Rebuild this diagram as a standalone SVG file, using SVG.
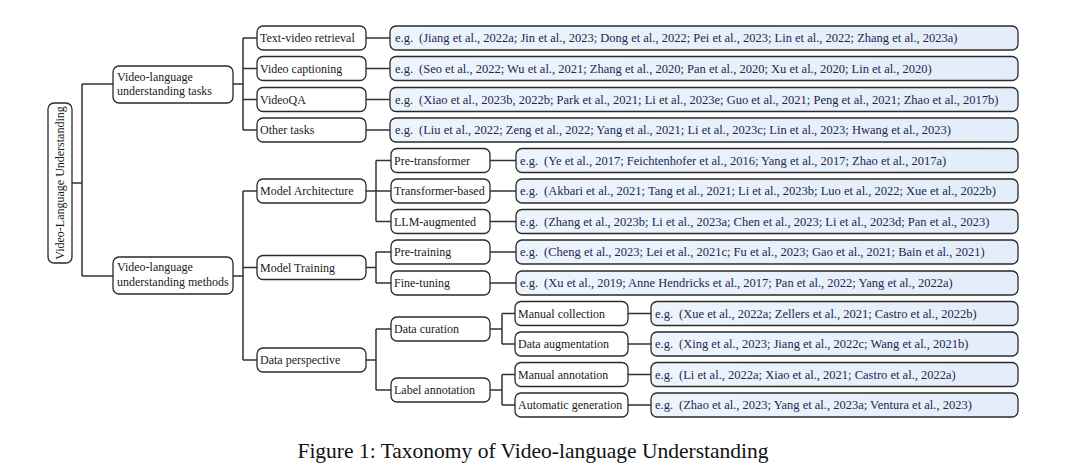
<svg xmlns="http://www.w3.org/2000/svg" width="1080" height="472" viewBox="0 0 1080 472">
<defs>
<linearGradient id="lg" x1="0" y1="0" x2="1" y2="0">
<stop offset="0" stop-color="#edf4fc"/>
<stop offset="1" stop-color="#e3edf9"/>
</linearGradient>
<style>
.n{fill:#ffffff;stroke:#2a2a2a;stroke-width:1.3}
.l{fill:url(#lg);stroke:#2a2a2a;stroke-width:1.3}
.t{font-family:"Liberation Serif","Times New Roman",serif;font-size:12px;fill:#1a1a1a}
.c{font-family:"Liberation Serif","Times New Roman",serif;font-size:12.5px;fill:#1e2750}
.cap{font-family:"Liberation Serif","Times New Roman",serif;font-size:21.5px;fill:#111}
#conn path{fill:none;stroke:#333;stroke-width:1.5}
</style>
</defs>
<rect width="1080" height="472" fill="#ffffff"/>
<g id="conn">
<path d="M72 183H82M82 84V276M82 84H113M82 276H113"/>
<path d="M233 84H243M243 38V130M243 38H257M243 68.5H257M243 99.5H257M243 130H257"/>
<path d="M366 38H390M366 68.5H390M366 99.5H390M366 130H390"/>
<path d="M233 276H243M243 191V360M243 191H257M243 267.5H257M243 360H257"/>
<path d="M366 191H376M376 160.5V221.5M376 160.5H391M376 191H391M376 221.5H391"/>
<path d="M490 160.5H516M490 191H516M490 221.5H516M490 252H516M490 283H516"/>
<path d="M366 267.5H376M376 252V283M376 252H391M376 283H391"/>
<path d="M366 360H376M376 329V390M376 329H391M376 390H391"/>
<path d="M490 329H502M502 313.5V344M502 313.5H515M502 344H515"/>
<path d="M490 390H502M502 374.5V405M502 374.5H515M502 405H515"/>
<path d="M628 313.5H651M628 344H651M628 374.5H651M628 405H651"/>
</g>
<g id="root">
<rect class="n" x="48" y="103" width="24" height="160" rx="6"/>
<text class="t" transform="translate(64 183) rotate(-90)" text-anchor="middle">Video-Language Understanding</text>
</g>
<g id="tasks">
<rect class="n" x="113" y="66" width="120" height="37" rx="6"/>
<text class="t" x="117" y="81">Video-language</text>
<text class="t" x="117" y="95">understanding tasks</text>
</g>
<g id="methods">
<rect class="n" x="113" y="257" width="120" height="37" rx="6"/>
<text class="t" x="117" y="271">Video-language</text>
<text class="t" x="117" y="286">understanding methods</text>
</g>
<g id="retrieval">
<rect class="n" x="257" y="26" width="109" height="24" rx="6"/>
<text class="t" x="260" y="42">Text-video retrieval</text>
</g>
<g id="captioning">
<rect class="n" x="257" y="56.5" width="109" height="24" rx="6"/>
<text class="t" x="260" y="72.5">Video captioning</text>
</g>
<g id="videoqa">
<rect class="n" x="257" y="87.5" width="109" height="24" rx="6"/>
<text class="t" x="260" y="103.5">VideoQA</text>
</g>
<g id="other">
<rect class="n" x="257" y="118" width="109" height="24" rx="6"/>
<text class="t" x="260" y="134">Other tasks</text>
</g>
<g id="leaf-retrieval">
<rect class="l" x="390" y="26" width="628" height="24" rx="6"/>
<text class="c" x="395" y="42">e.g.<tspan dx="6">(Jiang et al., 2022a; Jin et al., 2023; Dong et al., 2022; Pei et al., 2023; Lin et al., 2022; Zhang et al., 2023a)</tspan></text>
</g>
<g id="leaf-captioning">
<rect class="l" x="390" y="56.5" width="628" height="24" rx="6"/>
<text class="c" x="395" y="72.5">e.g.<tspan dx="6">(Seo et al., 2022; Wu et al., 2021; Zhang et al., 2020; Pan et al., 2020; Xu et al., 2020; Lin et al., 2020)</tspan></text>
</g>
<g id="leaf-videoqa">
<rect class="l" x="390" y="87.5" width="628" height="24" rx="6"/>
<text class="c" x="395" y="103.5">e.g.<tspan dx="6">(Xiao et al., 2023b, 2022b; Park et al., 2021; Li et al., 2023e; Guo et al., 2021; Peng et al., 2021; Zhao et al., 2017b)</tspan></text>
</g>
<g id="leaf-other">
<rect class="l" x="390" y="118" width="628" height="24" rx="6"/>
<text class="c" x="395" y="134">e.g.<tspan dx="6">(Liu et al., 2022; Zeng et al., 2022; Yang et al., 2021; Li et al., 2023c; Lin et al., 2023; Hwang et al., 2023)</tspan></text>
</g>
<g id="arch">
<rect class="n" x="257" y="179" width="109" height="24" rx="6"/>
<text class="t" x="260" y="195">Model Architecture</text>
</g>
<g id="training">
<rect class="n" x="257" y="255.5" width="109" height="24" rx="6"/>
<text class="t" x="260" y="271.5">Model Training</text>
</g>
<g id="data">
<rect class="n" x="257" y="348" width="109" height="24" rx="6"/>
<text class="t" x="260" y="364">Data perspective</text>
</g>
<g id="pretransformer">
<rect class="n" x="391" y="148.5" width="99" height="24" rx="6"/>
<text class="t" x="394" y="164.5">Pre-transformer</text>
</g>
<g id="transformer">
<rect class="n" x="391" y="179" width="99" height="24" rx="6"/>
<text class="t" x="394" y="195">Transformer-based</text>
</g>
<g id="llm">
<rect class="n" x="391" y="209.5" width="99" height="24" rx="6"/>
<text class="t" x="394" y="225.5">LLM-augmented</text>
</g>
<g id="pretraining">
<rect class="n" x="391" y="240" width="99" height="24" rx="6"/>
<text class="t" x="394" y="256">Pre-training</text>
</g>
<g id="finetuning">
<rect class="n" x="391" y="271" width="99" height="24" rx="6"/>
<text class="t" x="394" y="287">Fine-tuning</text>
</g>
<g id="leaf-pretransformer">
<rect class="l" x="516" y="148.5" width="502" height="24" rx="6"/>
<text class="c" x="520" y="164.5">e.g.<tspan dx="6">(Ye et al., 2017; Feichtenhofer et al., 2016; Yang et al., 2017; Zhao et al., 2017a)</tspan></text>
</g>
<g id="leaf-transformer">
<rect class="l" x="516" y="179" width="502" height="24" rx="6"/>
<text class="c" x="520" y="195">e.g.<tspan dx="6">(Akbari et al., 2021; Tang et al., 2021; Li et al., 2023b; Luo et al., 2022; Xue et al., 2022b)</tspan></text>
</g>
<g id="leaf-llm">
<rect class="l" x="516" y="209.5" width="502" height="24" rx="6"/>
<text class="c" x="520" y="225.5">e.g.<tspan dx="6">(Zhang et al., 2023b; Li et al., 2023a; Chen et al., 2023; Li et al., 2023d; Pan et al., 2023)</tspan></text>
</g>
<g id="leaf-pretraining">
<rect class="l" x="516" y="240" width="502" height="24" rx="6"/>
<text class="c" x="520" y="256">e.g.<tspan dx="6">(Cheng et al., 2023; Lei et al., 2021c; Fu et al., 2023; Gao et al., 2021; Bain et al., 2021)</tspan></text>
</g>
<g id="leaf-finetuning">
<rect class="l" x="516" y="271" width="502" height="24" rx="6"/>
<text class="c" x="520" y="287">e.g.<tspan dx="6">(Xu et al., 2019; Anne Hendricks et al., 2017; Pan et al., 2022; Yang et al., 2022a)</tspan></text>
</g>
<g id="curation">
<rect class="n" x="391" y="317" width="99" height="24" rx="6"/>
<text class="t" x="394" y="333">Data curation</text>
</g>
<g id="annotation">
<rect class="n" x="391" y="378" width="99" height="24" rx="6"/>
<text class="t" x="394" y="394">Label annotation</text>
</g>
<g id="manual-collection">
<rect class="n" x="515" y="301.5" width="113" height="24" rx="6"/>
<text class="t" x="518" y="317.5">Manual collection</text>
</g>
<g id="augmentation">
<rect class="n" x="515" y="332" width="113" height="24" rx="6"/>
<text class="t" x="518" y="348">Data augmentation</text>
</g>
<g id="manual-annotation">
<rect class="n" x="515" y="362.5" width="113" height="24" rx="6"/>
<text class="t" x="518" y="378.5">Manual annotation</text>
</g>
<g id="automatic">
<rect class="n" x="515" y="393" width="113" height="24" rx="6"/>
<text class="t" x="518" y="409">Automatic generation</text>
</g>
<g id="leaf-manual-collection">
<rect class="l" x="651" y="301.5" width="367" height="24" rx="6"/>
<text class="c" x="655" y="317.5">e.g.<tspan dx="6">(Xue et al., 2022a; Zellers et al., 2021; Castro et al., 2022b)</tspan></text>
</g>
<g id="leaf-augmentation">
<rect class="l" x="651" y="332" width="367" height="24" rx="6"/>
<text class="c" x="655" y="348">e.g.<tspan dx="6">(Xing et al., 2023; Jiang et al., 2022c; Wang et al., 2021b)</tspan></text>
</g>
<g id="leaf-manual-annotation">
<rect class="l" x="651" y="362.5" width="367" height="24" rx="6"/>
<text class="c" x="655" y="378.5">e.g.<tspan dx="6">(Li et al., 2022a; Xiao et al., 2021; Castro et al., 2022a)</tspan></text>
</g>
<g id="leaf-automatic">
<rect class="l" x="651" y="393" width="367" height="24" rx="6"/>
<text class="c" x="655" y="409">e.g.<tspan dx="6">(Zhao et al., 2023; Yang et al., 2023a; Ventura et al., 2023)</tspan></text>
</g>
<text class="cap" x="533" y="458" text-anchor="middle">Figure 1: Taxonomy of Video-language Understanding</text>
</svg>
